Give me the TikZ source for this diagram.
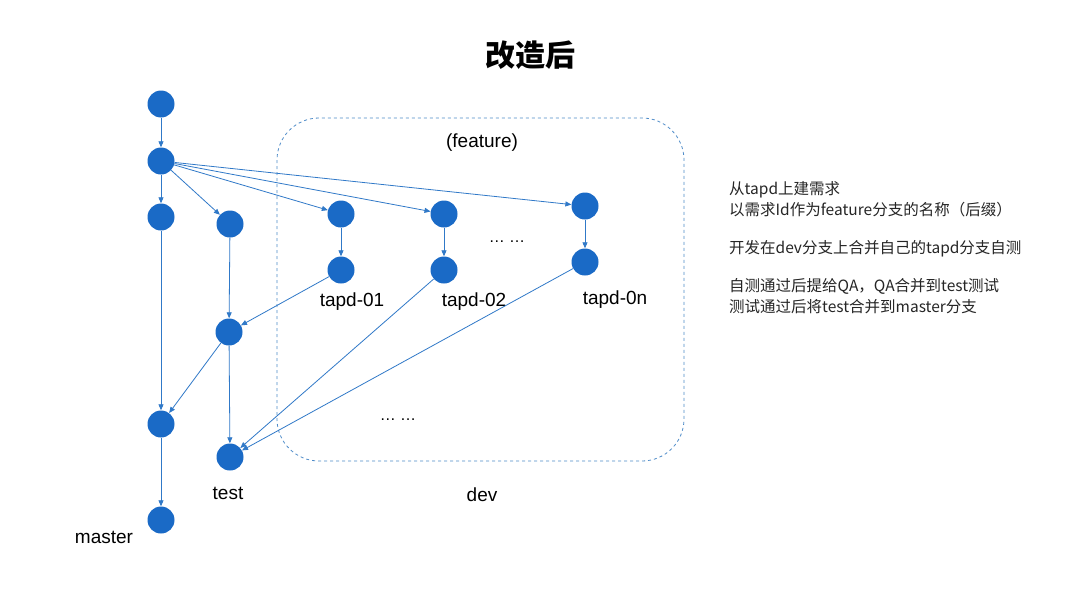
\documentclass[tikz,border=0pt]{standalone}
\usepackage{fontspec}
\setmainfont{Liberation Sans}
\newfontfamily\cjk{Noto Sans CJK SC}
\usetikzlibrary{arrows.meta}
\definecolor{nodeblue}{HTML}{1A6AC6}
\definecolor{lineblue}{HTML}{3079C8}
\definecolor{boxblue}{HTML}{4F8CC9}
\tikzset{
  cnode/.style={circle, fill=nodeblue, minimum size=27pt, inner sep=0pt},
  arr/.style={draw=lineblue, line width=0.8pt, -{Triangle[length=6pt,width=5pt]}},
  lbl/.style={font=\fontsize{19}{22}\selectfont, text=black, inner sep=0pt},
  dots/.style={font=\fontsize{16}{18}\selectfont, text=black, inner sep=0pt},
}
\begin{document}
\begin{tikzpicture}[x=1pt,y=-1pt]
\useasboundingbox[fill=white] (0,0) rectangle (1080,608);
% feature/dev box
\draw[boxblue, dashed, line width=0.8pt, rounded corners=42pt] (277,118) rectangle (684,461);
% title
\node (title) at (530,55) {\cjk\bfseries\fontsize{30}{34}\selectfont 改造后};
% nodes
\node[cnode] (n1) at (161,104) {};
\node[cnode] (n2) at (161,161) {};
\node[cnode] (m1) at (161,217) {};
\node[cnode] (t1) at (230,224) {};
\node[cnode] (f1a) at (341,214) {};
\node[cnode] (f1b) at (341,270) {};
\node[cnode] (f2a) at (444,214) {};
\node[cnode] (f2b) at (444,270) {};
\node[cnode] (fna) at (585,206) {};
\node[cnode] (fnb) at (585,262) {};
\node[cnode] (t2) at (229,332) {};
\node[cnode] (m2) at (161,424) {};
\node[cnode] (t3) at (230,457) {};
\node[cnode] (m3) at (161,520) {};
% labels
\node[lbl] (lf) at (482,143) {(feature)};
\node[lbl] (l01) at (352,302) {tapd-01};
\node[lbl] (l02) at (474,302) {tapd-02};
\node[lbl] (l0n) at (615,300) {tapd-0n};
\node[lbl] (ldev) at (482,495) {dev};
\node[lbl] (ltest) at (228,493) {test};
\node[lbl] (lmaster) at (104,537) {master};
\node[dots] (d1) at (507,242) {… …};
\node[dots] (d2) at (398,420) {… …};
% right text
\node[anchor=north west, align=left, inner sep=0pt, text=black!85, font=\cjk\fontsize{15.5}{21}\selectfont] (desc) at (729,181)
  {从tapd上建需求\\以需求Id作为feature分支的名称（后缀）\\[17pt]开发在dev分支上合并自己的tapd分支自测\\[17pt]自测通过后提给QA，QA合并到test测试\\测试通过后将test合并到master分支};
% connectors
\draw[arr] (n1) -- (n2);
\draw[arr] (n2) -- (m1);
\draw[arr] (n2) -- (t1);
\draw[arr] (n2) -- (f1a);
\draw[arr] (n2) -- (f2a);
\draw[arr] (n2) -- (fna);
\draw[arr] (f1a) -- (f1b);
\draw[arr] (f2a) -- (f2b);
\draw[arr] (fna) -- (fnb);
\draw[arr] (m1) -- (m2);
\draw[arr] (m2) -- (m3);
\draw[arr] (t1) -- (t2);
\draw[arr] (t2) -- (t3);
\draw[arr] (f1b) -- (t2);
\draw[arr] (t2) -- (m2);
\draw[arr] (f2b) -- (t3);
\draw[arr] (fnb) -- (t3);
\end{tikzpicture}
\end{document}
